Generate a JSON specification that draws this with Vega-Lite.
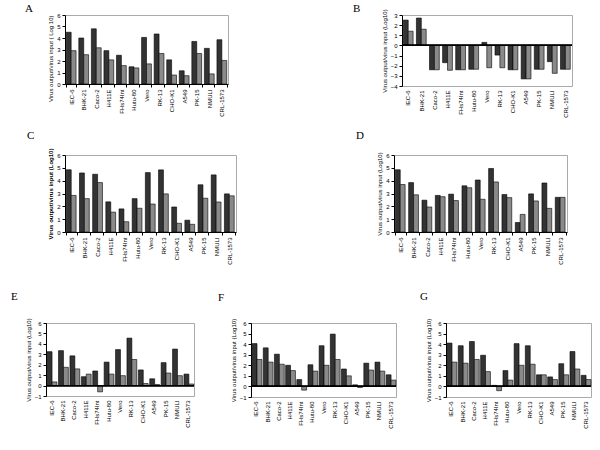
{
  "$schema": "https://vega.github.io/schema/vega-lite/v6.json",
  "padding": {"left": 10, "top": 3, "right": 0, "bottom": 0},
  "columns": 1,
  "align": "none",
  "spacing": 12,
  "config": {
    "font": "Liberation Sans",
    "view": {"stroke": "#aaaaaa", "strokeWidth": 1},
    "axis": {"labelFontSize": 6, "titleFontSize": 6, "grid": false, "domainColor": "#000", "tickColor": "#000", "labelColor": "#000", "titleColor": "#000", "titleFontWeight": "normal", "tickSize": 3, "labelOverlap": false, "labelFlush": false, "labelPadding": 2, "titlePadding": 3},
    "title": {"font": "Liberation Serif", "fontSize": 11, "fontWeight": "normal", "anchor": "start", "color": "#000", "frame": "group", "lineHeight": 13},
    "bar": {"stroke": "#000", "strokeWidth": 0.6}
  },
  "datasets": {
    "none": [],
    "d": [
      {"p":"A","c":"IEC-6","s":"1","v":4.5},{"p":"A","c":"IEC-6","s":"2","v":2.9},
      {"p":"A","c":"BHK-21","s":"1","v":4.0},{"p":"A","c":"BHK-21","s":"2","v":2.55},
      {"p":"A","c":"Caco-2","s":"1","v":4.8},{"p":"A","c":"Caco-2","s":"2","v":3.15},
      {"p":"A","c":"H411E","s":"1","v":2.9},{"p":"A","c":"H411E","s":"2","v":2.1},
      {"p":"A","c":"FHs74Int","s":"1","v":2.5},{"p":"A","c":"FHs74Int","s":"2","v":1.6},
      {"p":"A","c":"Hutu-80","s":"1","v":1.5},{"p":"A","c":"Hutu-80","s":"2","v":1.4},
      {"p":"A","c":"Vero","s":"1","v":4.05},{"p":"A","c":"Vero","s":"2","v":1.75},
      {"p":"A","c":"RK-13","s":"1","v":4.35},{"p":"A","c":"RK-13","s":"2","v":2.65},
      {"p":"A","c":"CHO-K1","s":"1","v":2.1},{"p":"A","c":"CHO-K1","s":"2","v":0.78},
      {"p":"A","c":"A549","s":"1","v":1.15},{"p":"A","c":"A549","s":"2","v":0.72},
      {"p":"A","c":"PK-15","s":"1","v":3.7},{"p":"A","c":"PK-15","s":"2","v":2.65},
      {"p":"A","c":"NMULI","s":"1","v":3.1},{"p":"A","c":"NMULI","s":"2","v":0.88},
      {"p":"A","c":"CRL-1573","s":"1","v":3.85},{"p":"A","c":"CRL-1573","s":"2","v":2.05},

      {"p":"B","c":"IEC-6","s":"1","v":2.5},{"p":"B","c":"IEC-6","s":"2","v":1.4},
      {"p":"B","c":"BHK-21","s":"1","v":2.7},{"p":"B","c":"BHK-21","s":"2","v":1.6},
      {"p":"B","c":"Caco-2","s":"1","v":-2.4},{"p":"B","c":"Caco-2","s":"2","v":-2.4},
      {"p":"B","c":"H411E","s":"1","v":-1.7},{"p":"B","c":"H411E","s":"2","v":-2.45},
      {"p":"B","c":"FHs74Int","s":"1","v":-2.4},{"p":"B","c":"FHs74Int","s":"2","v":-2.4},
      {"p":"B","c":"Hutu-80","s":"1","v":-2.35},{"p":"B","c":"Hutu-80","s":"2","v":-2.35},
      {"p":"B","c":"Vero","s":"1","v":0.3},{"p":"B","c":"Vero","s":"2","v":-2.2},
      {"p":"B","c":"RK-13","s":"1","v":-0.95},{"p":"B","c":"RK-13","s":"2","v":-2.2},
      {"p":"B","c":"CHO-K1","s":"1","v":-2.4},{"p":"B","c":"CHO-K1","s":"2","v":-2.4},
      {"p":"B","c":"A549","s":"1","v":-3.3},{"p":"B","c":"A549","s":"2","v":-3.3},
      {"p":"B","c":"PK-15","s":"1","v":-2.35},{"p":"B","c":"PK-15","s":"2","v":-2.35},
      {"p":"B","c":"NMULI","s":"1","v":-1.6},{"p":"B","c":"NMULI","s":"2","v":-2.75},
      {"p":"B","c":"CRL-1573","s":"1","v":-2.35},{"p":"B","c":"CRL-1573","s":"2","v":-2.35},

      {"p":"C","c":"IEC-6","s":"1","v":4.85},{"p":"C","c":"IEC-6","s":"2","v":2.85},
      {"p":"C","c":"BHK-21","s":"1","v":4.6},{"p":"C","c":"BHK-21","s":"2","v":2.6},
      {"p":"C","c":"Caco-2","s":"1","v":4.5},{"p":"C","c":"Caco-2","s":"2","v":3.85},
      {"p":"C","c":"H411E","s":"1","v":2.35},{"p":"C","c":"H411E","s":"2","v":1.55},
      {"p":"C","c":"FHs74Int","s":"1","v":1.8},{"p":"C","c":"FHs74Int","s":"2","v":0.8},
      {"p":"C","c":"Hutu-80","s":"1","v":2.6},{"p":"C","c":"Hutu-80","s":"2","v":1.85},
      {"p":"C","c":"Vero","s":"1","v":4.63},{"p":"C","c":"Vero","s":"2","v":2.18},
      {"p":"C","c":"RK-13","s":"1","v":4.84},{"p":"C","c":"RK-13","s":"2","v":2.97},
      {"p":"C","c":"CHO-K1","s":"1","v":1.95},{"p":"C","c":"CHO-K1","s":"2","v":0.68},
      {"p":"C","c":"A549","s":"1","v":0.92},{"p":"C","c":"A549","s":"2","v":0.6},
      {"p":"C","c":"PK-15","s":"1","v":3.68},{"p":"C","c":"PK-15","s":"2","v":2.63},
      {"p":"C","c":"NMULI","s":"1","v":4.45},{"p":"C","c":"NMULI","s":"2","v":2.34},
      {"p":"C","c":"CRL-1573","s":"1","v":2.97},{"p":"C","c":"CRL-1573","s":"2","v":2.82},

      {"p":"D","c":"IEC-6","s":"1","v":4.85},{"p":"D","c":"IEC-6","s":"2","v":3.7},
      {"p":"D","c":"BHK-21","s":"1","v":3.85},{"p":"D","c":"BHK-21","s":"2","v":2.9},
      {"p":"D","c":"Caco-2","s":"1","v":2.48},{"p":"D","c":"Caco-2","s":"2","v":1.95},
      {"p":"D","c":"H411E","s":"1","v":2.85},{"p":"D","c":"H411E","s":"2","v":2.75},
      {"p":"D","c":"FHs74Int","s":"1","v":2.95},{"p":"D","c":"FHs74Int","s":"2","v":2.45},
      {"p":"D","c":"Hutu-80","s":"1","v":3.6},{"p":"D","c":"Hutu-80","s":"2","v":3.45},
      {"p":"D","c":"Vero","s":"1","v":4.05},{"p":"D","c":"Vero","s":"2","v":2.55},
      {"p":"D","c":"RK-13","s":"1","v":4.95},{"p":"D","c":"RK-13","s":"2","v":3.9},
      {"p":"D","c":"CHO-K1","s":"1","v":2.92},{"p":"D","c":"CHO-K1","s":"2","v":2.68},
      {"p":"D","c":"A549","s":"1","v":0.74},{"p":"D","c":"A549","s":"2","v":1.37},
      {"p":"D","c":"PK-15","s":"1","v":2.97},{"p":"D","c":"PK-15","s":"2","v":2.42},
      {"p":"D","c":"NMULI","s":"1","v":3.82},{"p":"D","c":"NMULI","s":"2","v":1.84},
      {"p":"D","c":"CRL-1573","s":"1","v":2.7},{"p":"D","c":"CRL-1573","s":"2","v":2.7},

      {"p":"E","c":"IEC-6","s":"1","v":3.25},{"p":"E","c":"IEC-6","s":"2","v":0.35},
      {"p":"E","c":"BHK-21","s":"1","v":3.35},{"p":"E","c":"BHK-21","s":"2","v":1.75},
      {"p":"E","c":"Caco-2","s":"1","v":2.85},{"p":"E","c":"Caco-2","s":"2","v":1.6},
      {"p":"E","c":"H411E","s":"1","v":0.85},{"p":"E","c":"H411E","s":"2","v":1.1},
      {"p":"E","c":"FHs74Int","s":"1","v":1.4},{"p":"E","c":"FHs74Int","s":"2","v":-0.6},
      {"p":"E","c":"Hutu-80","s":"1","v":2.25},{"p":"E","c":"Hutu-80","s":"2","v":1.1},
      {"p":"E","c":"Vero","s":"1","v":3.45},{"p":"E","c":"Vero","s":"2","v":0.95},
      {"p":"E","c":"RK-13","s":"1","v":4.55},{"p":"E","c":"RK-13","s":"2","v":2.5},
      {"p":"E","c":"CHO-K1","s":"1","v":1.5},{"p":"E","c":"CHO-K1","s":"2","v":0.2},
      {"p":"E","c":"A549","s":"1","v":0.65},{"p":"E","c":"A549","s":"2","v":0.1},
      {"p":"E","c":"PK-15","s":"1","v":2.2},{"p":"E","c":"PK-15","s":"2","v":1.2},
      {"p":"E","c":"NMULI","s":"1","v":3.5},{"p":"E","c":"NMULI","s":"2","v":0.95},
      {"p":"E","c":"CRL-1573","s":"1","v":1.1},{"p":"E","c":"CRL-1573","s":"2","v":0.15},

      {"p":"F","c":"IEC-6","s":"1","v":4.05},{"p":"F","c":"IEC-6","s":"2","v":2.55},
      {"p":"F","c":"BHK-21","s":"1","v":3.65},{"p":"F","c":"BHK-21","s":"2","v":2.3},
      {"p":"F","c":"Caco-2","s":"1","v":3.05},{"p":"F","c":"Caco-2","s":"2","v":2.1},
      {"p":"F","c":"H411E","s":"1","v":2.0},{"p":"F","c":"H411E","s":"2","v":1.5},
      {"p":"F","c":"FHs74Int","s":"1","v":0.65},{"p":"F","c":"FHs74Int","s":"2","v":-0.35},
      {"p":"F","c":"Hutu-80","s":"1","v":2.05},{"p":"F","c":"Hutu-80","s":"2","v":1.45},
      {"p":"F","c":"Vero","s":"1","v":3.85},{"p":"F","c":"Vero","s":"2","v":2.0},
      {"p":"F","c":"RK-13","s":"1","v":4.95},{"p":"F","c":"RK-13","s":"2","v":2.55},
      {"p":"F","c":"CHO-K1","s":"1","v":1.65},{"p":"F","c":"CHO-K1","s":"2","v":1.0},
      {"p":"F","c":"A549","s":"1","v":0.15},{"p":"F","c":"A549","s":"2","v":-0.1},
      {"p":"F","c":"PK-15","s":"1","v":2.2},{"p":"F","c":"PK-15","s":"2","v":1.55},
      {"p":"F","c":"NMULI","s":"1","v":2.3},{"p":"F","c":"NMULI","s":"2","v":1.45},
      {"p":"F","c":"CRL-1573","s":"1","v":1.1},{"p":"F","c":"CRL-1573","s":"2","v":0.6},

      {"p":"G","c":"IEC-6","s":"1","v":4.1},{"p":"G","c":"IEC-6","s":"2","v":2.3},
      {"p":"G","c":"BHK-21","s":"1","v":3.85},{"p":"G","c":"BHK-21","s":"2","v":2.2},
      {"p":"G","c":"Caco-2","s":"1","v":4.25},{"p":"G","c":"Caco-2","s":"2","v":2.55},
      {"p":"G","c":"H411E","s":"1","v":2.95},{"p":"G","c":"H411E","s":"2","v":1.4},
      {"p":"G","c":"FHs74Int","s":"1","v":0.1},{"p":"G","c":"FHs74Int","s":"2","v":-0.4},
      {"p":"G","c":"Hutu-80","s":"1","v":1.5},{"p":"G","c":"Hutu-80","s":"2","v":0.6},
      {"p":"G","c":"Vero","s":"1","v":4.05},{"p":"G","c":"Vero","s":"2","v":2.0},
      {"p":"G","c":"RK-13","s":"1","v":3.85},{"p":"G","c":"RK-13","s":"2","v":2.1},
      {"p":"G","c":"CHO-K1","s":"1","v":1.1},{"p":"G","c":"CHO-K1","s":"2","v":1.1},
      {"p":"G","c":"A549","s":"1","v":0.9},{"p":"G","c":"A549","s":"2","v":0.65},
      {"p":"G","c":"PK-15","s":"1","v":2.15},{"p":"G","c":"PK-15","s":"2","v":1.1},
      {"p":"G","c":"NMULI","s":"1","v":3.3},{"p":"G","c":"NMULI","s":"2","v":1.65},
      {"p":"G","c":"CRL-1573","s":"1","v":1.05},{"p":"G","c":"CRL-1573","s":"2","v":0.65}
    ]
  },
  "concat": [
    {"hconcat": [
      {"title": {"text": "A", "dx": -21, "offset": 1}, "width": 1, "height": 69, "view": {"stroke": null}, "data": {"name": "none"}, "mark": "point"},
      {"width": 163, "height": 69, "data": {"name": "d"}, "transform": [{"filter": "datum.p == 'A'"}],
       "layer": [{"mark": "bar", "encoding": {
         "x": {"field": "c", "type": "nominal", "sort": ["IEC-6","BHK-21","Caco-2","H411E","FHs74Int","Hutu-80","Vero","RK-13","CHO-K1","A549","PK-15","NMULI","CRL-1573"], "scale": {"paddingInner": 0.22, "paddingOuter": 0.1}, "axis": {"labelAngle": -90, "title": null, "tickBand": "extent"}},
         "xOffset": {"field": "s"},
         "y": {"field": "v", "type": "quantitative", "scale": {"domain": [0, 6]}, "axis": {"values": [0,1,2,3,4,5,6], "title": "Virus output/virus input ( Log 10)", "titleAnchor": "end"}},
         "color": {"field": "s", "scale": {"range": ["#333333", "#8a8a8a"]}, "legend": null}}}]},
      {"title": {"text": "B", "dx": 124, "offset": 1}, "width": 151, "height": 69, "view": {"stroke": null}, "data": {"name": "none"}, "mark": "point"},
      {"width": 170, "height": 71, "data": {"name": "d"}, "transform": [{"filter": "datum.p == 'B'"}],
       "layer": [{"mark": "bar", "encoding": {
         "x": {"field": "c", "type": "nominal", "sort": ["IEC-6","BHK-21","Caco-2","H411E","FHs74Int","Hutu-80","Vero","RK-13","CHO-K1","A549","PK-15","NMULI","CRL-1573"], "scale": {"paddingInner": 0.22, "paddingOuter": 0.1}, "axis": {"labelAngle": -90, "title": null, "domain": false, "ticks": false, "labelPadding": 4}},
         "xOffset": {"field": "s"},
         "y": {"field": "v", "type": "quantitative", "scale": {"domain": [-4, 3]}, "axis": {"values": [-4,-3,-2,-1,0,1,2,3], "title": "Virus output/virus input (Log10)"}},
         "color": {"field": "s", "scale": {"range": ["#333333", "#8a8a8a"]}, "legend": null}}},
         {"mark": {"type": "rule", "color": "#000", "strokeWidth": 0.8}, "encoding": {"y": {"datum": 0, "type": "quantitative", "axis": {"values": [-4,-3,-2,-1,0,1,2,3], "title": "Virus output/virus input (Log10)"}}}}]}
    ], "spacing": 0},
    {"hconcat": [
      {"title": {"text": "C", "dx": -19, "offset": 14}, "width": 1, "height": 77, "view": {"stroke": null}, "data": {"name": "none"}, "mark": "point"},
      {"width": 171, "height": 77, "data": {"name": "d"}, "transform": [{"filter": "datum.p == 'C'"}],
       "layer": [{"mark": "bar", "encoding": {
         "x": {"field": "c", "type": "nominal", "sort": ["IEC-6","BHK-21","Caco-2","H411E","FHs74Int","Hutu-80","Vero","RK-13","CHO-K1","A549","PK-15","NMULI","CRL-1573"], "scale": {"paddingInner": 0.22, "paddingOuter": 0.1}, "axis": {"labelAngle": -90, "title": null, "tickBand": "extent"}},
         "xOffset": {"field": "s"},
         "y": {"field": "v", "type": "quantitative", "scale": {"domain": [0, 6]}, "axis": {"values": [0,1,2,3,4,5,6], "title": "Virus output/virus input (Log10)", "titleFontWeight": "bold"}},
         "color": {"field": "s", "scale": {"range": ["#333333", "#8a8a8a"]}, "legend": null}}}]},
      {"title": {"text": "D", "dx": 119, "offset": 14}, "width": 139, "height": 77, "view": {"stroke": null}, "data": {"name": "none"}, "mark": "point"},
      {"width": 173, "height": 77, "data": {"name": "d"}, "transform": [{"filter": "datum.p == 'D'"}],
       "layer": [{"mark": "bar", "encoding": {
         "x": {"field": "c", "type": "nominal", "sort": ["IEC-6","BHK-21","Caco-2","H411E","FHs74Int","Hutu-80","Vero","RK-13","CHO-K1","A549","PK-15","NMULI","CRL-1573"], "scale": {"paddingInner": 0.22, "paddingOuter": 0.1}, "axis": {"labelAngle": -90, "title": null, "tickBand": "extent"}},
         "xOffset": {"field": "s"},
         "y": {"field": "v", "type": "quantitative", "scale": {"domain": [0, 6]}, "axis": {"values": [0,1,2,3,4,5,6], "title": "Virus output/virus input (Log10)"}},
         "color": {"field": "s", "scale": {"range": ["#333333", "#8a8a8a"]}, "legend": null}}}]}
    ], "spacing": 0},
    {"hconcat": [
      {"title": {"text": ["", "E"], "dx": -35, "offset": 16}, "width": 148, "height": 73, "data": {"name": "d"}, "transform": [{"filter": "datum.p == 'E'"}],
       "layer": [{"mark": "bar", "encoding": {
         "x": {"field": "c", "type": "nominal", "sort": ["IEC-6","BHK-21","Caco-2","H411E","FHs74Int","Hutu-80","Vero","RK-13","CHO-K1","A549","PK-15","NMULI","CRL-1573"], "scale": {"paddingInner": 0.22, "paddingOuter": 0.1}, "axis": {"labelAngle": -90, "title": null, "domain": false, "ticks": false, "labelPadding": 4}},
         "xOffset": {"field": "s"},
         "y": {"field": "v", "type": "quantitative", "scale": {"domain": [-1, 6]}, "axis": {"values": [-1,0,1,2,3,4,5,6], "title": "Virus output/virus input (Log10)"}},
         "color": {"field": "s", "scale": {"range": ["#333333", "#8a8a8a"]}, "legend": null}}},
         {"mark": {"type": "rule", "color": "#000", "strokeWidth": 0.8}, "encoding": {"y": {"datum": 0, "type": "quantitative", "axis": {"values": [-1,0,1,2,3,4,5,6], "title": "Virus output/virus input (Log10)"}}}}]},
      {"title": {"text": ["", "F"], "dx": -33, "offset": 15}, "width": 145, "height": 74, "data": {"name": "d"}, "transform": [{"filter": "datum.p == 'F'"}],
       "layer": [{"mark": "bar", "encoding": {
         "x": {"field": "c", "type": "nominal", "sort": ["IEC-6","BHK-21","Caco-2","H411E","FHs74Int","Hutu-80","Vero","RK-13","CHO-K1","A549","PK-15","NMULI","CRL-1573"], "scale": {"paddingInner": 0.22, "paddingOuter": 0.1}, "axis": {"labelAngle": -90, "title": null, "domain": false, "ticks": false, "labelPadding": 4}},
         "xOffset": {"field": "s"},
         "y": {"field": "v", "type": "quantitative", "scale": {"domain": [-1, 6]}, "axis": {"values": [-1,0,1,2,3,4,5,6], "title": "Virus output/virus input (Log10)"}},
         "color": {"field": "s", "scale": {"range": ["#333333", "#8a8a8a"]}, "legend": null}}},
         {"mark": {"type": "rule", "color": "#000", "strokeWidth": 0.8}, "encoding": {"y": {"datum": 0, "type": "quantitative", "axis": {"values": [-1,0,1,2,3,4,5,6], "title": "Virus output/virus input (Log10)"}}}}]},
      {"title": {"text": ["", "G"], "dx": -26, "offset": 16}, "width": 145, "height": 74, "data": {"name": "d"}, "transform": [{"filter": "datum.p == 'G'"}],
       "layer": [{"mark": "bar", "encoding": {
         "x": {"field": "c", "type": "nominal", "sort": ["IEC-6","BHK-21","Caco-2","H411E","FHs74Int","Hutu-80","Vero","RK-13","CHO-K1","A549","PK-15","NMULI","CRL-1573"], "scale": {"paddingInner": 0.22, "paddingOuter": 0.1}, "axis": {"labelAngle": -90, "title": null, "domain": false, "ticks": false, "labelPadding": 4}},
         "xOffset": {"field": "s"},
         "y": {"field": "v", "type": "quantitative", "scale": {"domain": [-1, 6]}, "axis": {"values": [-1,0,1,2,3,4,5,6], "title": "Virus output/virus input (Log10)"}},
         "color": {"field": "s", "scale": {"range": ["#333333", "#8a8a8a"]}, "legend": null}}},
         {"mark": {"type": "rule", "color": "#000", "strokeWidth": 0.8}, "encoding": {"y": {"datum": 0, "type": "quantitative", "axis": {"values": [-1,0,1,2,3,4,5,6], "title": "Virus output/virus input (Log10)"}}}}]}
    ], "spacing": 22}
  ]
}
